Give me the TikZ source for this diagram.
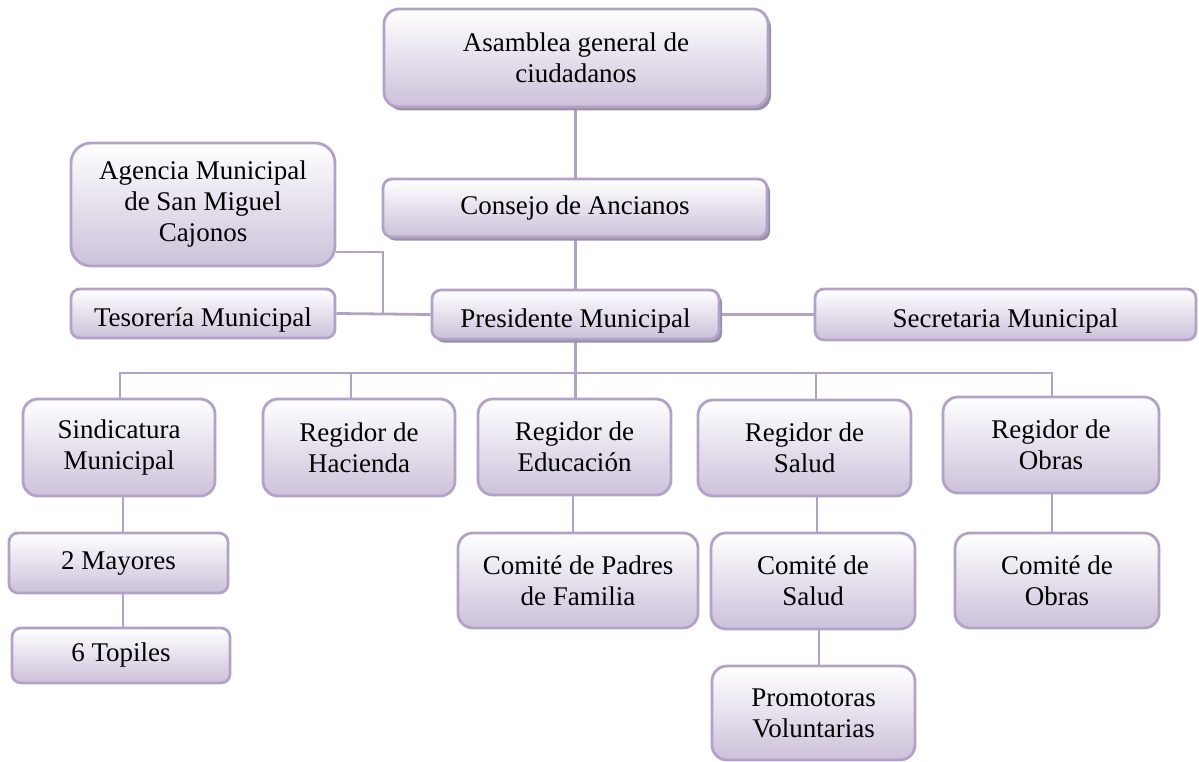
\documentclass[tikz,border=0pt]{standalone}
\usepackage{fontspec}
\setmainfont{Liberation Serif}
\usetikzlibrary{shadows,backgrounds}
\definecolor{bord}{RGB}{179,162,199}
\definecolor{boxbot}{RGB}{204,193,218}
\definecolor{shad}{RGB}{155,142,168}
\tikzset{
  orgbox/.style={draw=bord, line width=2.8pt, rounded corners=15pt,
    top color=white, bottom color=boxbot, inner sep=0pt, align=center,
    font=\fontsize{27}{31}\selectfont, text=black},
  shadowed/.style={drop shadow={shadow xshift=3pt, shadow yshift=-3.5pt, fill=shad, opacity=1}},
  conn/.style={draw=bord, line width=2.8pt},
  smallr/.style={rounded corners=9pt},
  bigr/.style={rounded corners=20pt},
  lowtext/.style={text height=31pt, text depth=6pt}
}
\begin{document}
\begin{tikzpicture}[x=1pt,y=-1pt]
\useasboundingbox (0,0) rectangle (1199,762);
% top
\node[orgbox, shadowed, minimum width=384pt, minimum height=98pt] (asamb) at (576,58) {Asamblea general de\\ciudadanos};
\node[orgbox, shadowed, smallr, minimum width=384pt, minimum height=58pt] (consejo) at (575,208) {Consejo de Ancianos};
\node[orgbox, bigr, minimum width=264pt, minimum height=123pt] (agencia) at (203,204.5) {Agencia Municipal\\de San Miguel\\Cajonos};
\node[orgbox, smallr, lowtext, minimum width=264pt, minimum height=49pt] (tesor) at (203,313.5) {Tesorería Municipal};
\node[orgbox, shadowed, smallr, lowtext, minimum width=287pt, minimum height=49pt] (pres) at (575.5,314.5) {Presidente Municipal};
\node[orgbox, smallr, lowtext, minimum width=381pt, minimum height=51pt] (secr) at (1005.5,314.5) {Secretaria Municipal};
% regidores
\node[orgbox, minimum width=192pt, minimum height=97pt] (sind) at (119,447.5) {Sindicatura\\Municipal};
\node[orgbox, minimum width=192pt, minimum height=97pt] (hac) at (359,447.5) {Regidor de\\Hacienda};
\node[orgbox, minimum width=193pt, minimum height=96pt] (edu) at (574.5,447) {Regidor de\\Educación};
\node[orgbox, minimum width=213pt, minimum height=96pt] (sal) at (804.5,448) {Regidor de\\Salud};
\node[orgbox, minimum width=216pt, minimum height=96pt] (obr) at (1051,445) {Regidor de\\Obras};
% lower
\node[orgbox, smallr, minimum width=219pt, minimum height=60pt] (may) at (118.5,563) {2 Mayores};
\node[orgbox, smallr, minimum width=218pt, minimum height=55pt] (topi) at (121,655.5) {6 Topiles};
\node[orgbox, minimum width=240pt, minimum height=95pt] (padres) at (578,580.5) {Comité de Padres\\de Familia};
\node[orgbox, minimum width=204pt, minimum height=96pt] (csal) at (813,581) {Comité de\\Salud};
\node[orgbox, minimum width=203pt, minimum height=94pt] (prom) at (813.5,713) {Promotoras\\Voluntarias};
\node[orgbox, minimum width=204pt, minimum height=95pt] (cobr) at (1057,580.5) {Comité de\\Obras};
% connectors
\coordinate (busL) at (120,373);
\coordinate (busR) at (1052,373);
\coordinate (busC) at (575.5,373);
\coordinate (bH) at (351,373);
\coordinate (bS) at (816,373);
\coordinate (jA) at (383,252);
\coordinate (xSind) at (123,0);
\coordinate (xEdu) at (573,0);
\coordinate (xSal) at (817,0);
\coordinate (xCs) at (819,0);
\coordinate (xObr) at (1052,0);
\begin{scope}[on background layer]
\draw[conn] (busC |- asamb.south) -- (busC |- consejo.north);
\draw[conn] (busC |- consejo.south) -- (busC |- pres.north);
\draw[conn] (busC |- pres.south) -- (busC) -- (busC |- edu.north);
\draw[conn] (busL |- sind.north) -- (busL) -- (busR) -- (busR |- obr.north);
\draw[conn] (bH) -- (bH |- hac.north);
\draw[conn] (bS) -- (bS |- sal.north);
\draw[conn] (xSind |- sind.south) -- (xSind |- may.north);
\draw[conn] (xSind |- may.south) -- (xSind |- topi.north);
\draw[conn] (xEdu |- edu.south) -- (xEdu |- padres.north);
\draw[conn] (xSal |- sal.south) -- (xSal |- csal.north);
\draw[conn] (xCs |- csal.south) -- (xCs |- prom.north);
\draw[conn] (xObr |- obr.south) -- (xObr |- cobr.north);
\draw[conn] (agencia.east |- jA) -- (jA) -- (jA |- tesor.east);
\draw[conn] (tesor.east) -- (pres.west);
\draw[conn] (pres.east) -- (secr.west);
\end{scope}
\end{tikzpicture}
\end{document}
